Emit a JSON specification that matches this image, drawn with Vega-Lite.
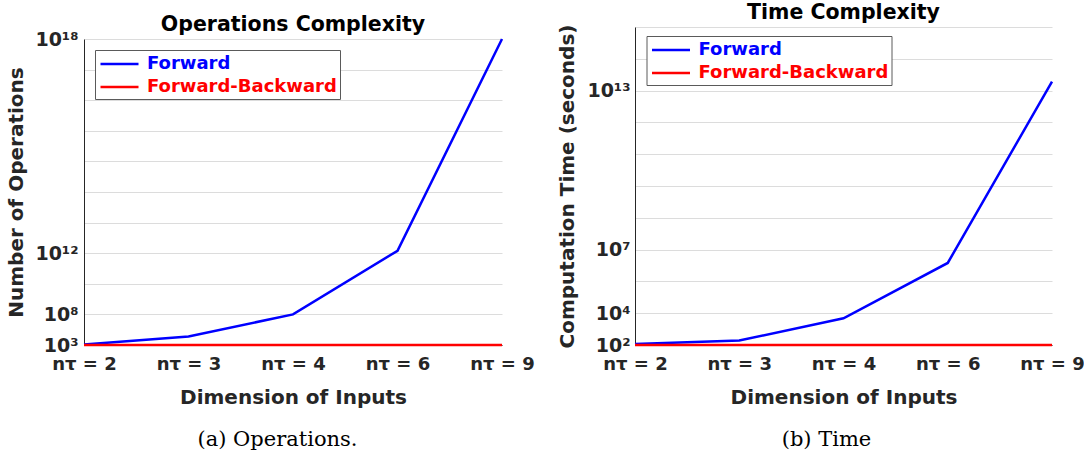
{
  "$schema": "https://vega.github.io/schema/vega-lite/v6.json",
  "background": "white",
  "padding": {"left": 6, "top": 2, "right": 0, "bottom": 0},
  "columns": 2,
  "spacing": {"column": 22, "row": 21},
  "resolve": {"scale": {"color": "independent"}, "legend": {"color": "independent"}},
  "config": {
    "font": "DejaVu Sans",
    "view": {"stroke": null},
    "axis": {
      "labelFont": "DejaVu Sans", "labelFontSize": 18, "labelFontWeight": "bold", "labelColor": "#262626",
      "titleFont": "DejaVu Sans", "titleFontSize": 20, "titleFontWeight": "bold", "titleColor": "#262626",
      "gridColor": "#dcdcdc", "gridWidth": 1, "domainColor": "#262626", "domainWidth": 1, "ticks": false
    },
    "title": {"font": "DejaVu Sans", "fontSize": 20.5, "fontWeight": "bold", "color": "#000000", "frame": "group"},
    "legend": {
      "title": null, "orient": "none", "padding": 3,
      "strokeColor": "#5a5a5a", "fillColor": "white",
      "symbolType": "M-2,0H2", "symbolSize": 361, "symbolStrokeWidth": 2.5, "symbolOffset": 10.5,
      "labelFont": "DejaVu Sans", "labelFontSize": 18, "labelFontWeight": "bold", "labelLimit": 0,
      "labelOffset": 16.5, "rowPadding": 3
    }
  },
  "datasets": {
    "ops": [
      {"n": 2, "method": "Forward", "level": 0.02},
      {"n": 3, "method": "Forward", "level": 0.28},
      {"n": 4, "method": "Forward", "level": 1.0},
      {"n": 6, "method": "Forward", "level": 3.08},
      {"n": 9, "method": "Forward", "level": 10.0},
      {"n": 2, "method": "Forward-Backward", "level": 0},
      {"n": 3, "method": "Forward-Backward", "level": 0},
      {"n": 4, "method": "Forward-Backward", "level": 0},
      {"n": 6, "method": "Forward-Backward", "level": 0},
      {"n": 9, "method": "Forward-Backward", "level": 0}
    ],
    "time": [
      {"n": 2, "method": "Forward", "level": 0.03},
      {"n": 3, "method": "Forward", "level": 0.14},
      {"n": 4, "method": "Forward", "level": 0.84},
      {"n": 6, "method": "Forward", "level": 2.58},
      {"n": 9, "method": "Forward", "level": 8.28},
      {"n": 2, "method": "Forward-Backward", "level": 0},
      {"n": 3, "method": "Forward-Backward", "level": 0},
      {"n": 4, "method": "Forward-Backward", "level": 0},
      {"n": 6, "method": "Forward-Backward", "level": 0},
      {"n": 9, "method": "Forward-Backward", "level": 0}
    ]
  },
  "concat": [
    {
      "width": 418, "height": 318,
      "title": {"text": "Operations Complexity", "offset": -8},
      "data": {"name": "ops"},
      "mark": {"type": "line", "strokeWidth": 2.5},
      "encoding": {
        "x": {"field": "n", "type": "ordinal",
          "scale": {"type": "point", "padding": 0, "domain": [2, 2.5, 3, 3.5, 4, 5, 6, 7.5, 9]},
          "axis": {"title": "Dimension of Inputs", "labelAngle": 0, "labelPadding": 10, "titlePadding": 14,
            "labelExpr": "indexof([2,3,4,6,9], datum.value) >= 0 ? 'nτ = ' + datum.value : ''"}},
        "y": {"field": "level", "type": "quantitative",
          "scale": {"domain": [0, 10], "range": [318, 12], "nice": false, "zero": false},
          "axis": {"title": "Number of Operations", "values": [0,1,2,3,4,5,6,7,8,9,10], "labelFontSize": 19, "labelPadding": 6, "titlePadding": 8,
            "labelExpr": "datum.value == 0 ? '10³' : datum.value == 1 ? '10⁸' : datum.value == 3 ? '10¹²' : datum.value == 10 ? '10¹⁸' : ''"}},
        "color": {"field": "method", "type": "nominal",
          "scale": {"domain": ["Forward", "Forward-Backward"], "range": ["#0000ff", "#ff0000"]},
          "legend": {"legendX": 11, "legendY": 23,
            "encode": {"labels": {"update": {"fill": {"signal": "datum.value === 'Forward' ? '#0000ff' : '#ff0000'"}}}}}}
      }
    },
    {
      "width": 417, "height": 318,
      "title": {"text": "Time Complexity", "offset": 1},
      "data": {"name": "time"},
      "mark": {"type": "line", "strokeWidth": 2.5},
      "encoding": {
        "x": {"field": "n", "type": "ordinal",
          "scale": {"type": "point", "padding": 0, "domain": [2, 2.5, 3, 3.5, 4, 5, 6, 7.5, 9]},
          "axis": {"title": "Dimension of Inputs", "labelAngle": 0, "labelPadding": 10, "titlePadding": 14,
            "labelExpr": "indexof([2,3,4,6,9], datum.value) >= 0 ? 'nτ = ' + datum.value : ''"}},
        "y": {"field": "level", "type": "quantitative",
          "scale": {"domain": [0, 10], "nice": false, "zero": false},
          "axis": {"title": "Computation Time (seconds)", "values": [0,1,2,3,4,5,6,7,8,9,10], "labelFontSize": 19, "labelPadding": 5, "titlePadding": 9,
            "labelExpr": "datum.value == 0 ? '10²' : datum.value == 1 ? '10⁴' : datum.value == 3 ? '10⁷' : datum.value == 8 ? '10¹³' : ''"}},
        "color": {"field": "method", "type": "nominal",
          "scale": {"domain": ["Forward", "Forward-Backward"], "range": ["#0000ff", "#ff0000"]},
          "legend": {"legendX": 11.5, "legendY": 9,
            "encode": {"labels": {"update": {"fill": {"signal": "datum.value === 'Forward' ? '#0000ff' : '#ff0000'"}}}}}}
      }
    },
    {
      "width": 387, "height": 24,
      "data": {"values": [{"caption": "(a) Operations."}]},
      "mark": {"type": "text", "font": "DejaVu Serif", "fontSize": 21, "color": "#000000"},
      "encoding": {"text": {"field": "caption", "type": "nominal"}}
    },
    {
      "width": 383, "height": 24,
      "data": {"values": [{"caption": "(b) Time"}]},
      "mark": {"type": "text", "font": "DejaVu Serif", "fontSize": 21, "color": "#000000"},
      "encoding": {"text": {"field": "caption", "type": "nominal"}}
    }
  ]
}
